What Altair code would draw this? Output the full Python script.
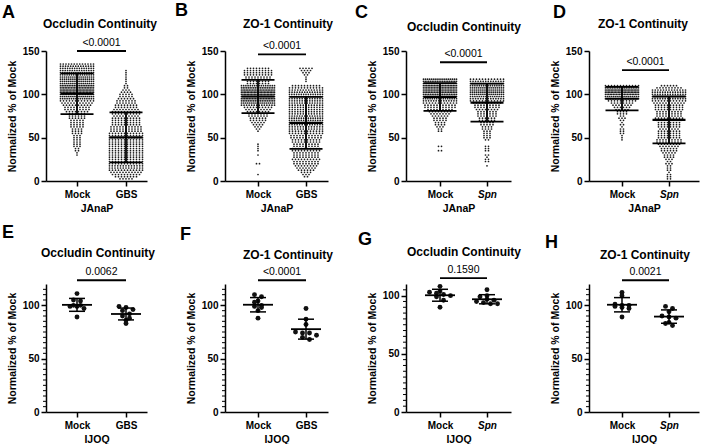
import altair as alt
import pandas as pd

FONT = "Liberation Sans"

# ---------------- data ----------------
# Panels A-D: number of dots in each row of the swarm, rows every STEP (% of Mock)
STEP = 2.5

A_mock_start = 30.0
A_mock_counts = [1, 1, 2, 2, 3, 3, 3, 3, 3, 3, 4, 4, 4, 5, 5, 5, 5, 6, 6, 6,
                 8, 9, 9, 10, 11, 12,
                 16, 18, 22, 24, 24, 22, 20,
                 18, 18, 17, 17, 16, 16, 15, 15, 14, 13]
A_gbs_start = 2.5
A_gbs_counts = [5, 8, 10, 11, 12, 13, 13, 12, 12, 12,
                12, 12, 12, 12, 12, 12, 12, 12, 12, 13,
                12, 12, 11, 11, 11, 10, 10, 10, 10, 9,
                10, 10, 9, 8, 8, 7, 7, 6, 5, 5,
                4, 3, 2, 2, 1, 1, 1, 1, 1, 1, 1]

B_mock_start = 7.5
B_mock_counts = [1, 0, 0, 0, 0, 2, 0, 0, 0, 1,
                 0, 1, 1, 1, 1, 0, 0, 0, 0, 0,
                 1, 2, 3, 4, 5, 6, 6, 7, 7, 8,
                 9, 10, 14, 18, 20, 22, 24, 24, 24, 22,
                 20, 16, 8, 8, 9, 9, 10, 10, 10, 8]
B_gbs_start = 5.0
B_gbs_counts = [2, 3, 4, 6, 7, 8, 9, 9, 10, 9,
                9, 9, 10, 10, 9, 9, 10, 10, 11, 11,
                12, 12, 13, 13, 14, 14, 15, 15, 14, 13,
                13, 13, 13, 13, 14, 14, 14, 15, 15, 14,
                13, 12, 10, 0, 1, 1, 1, 2, 3, 4, 5]

C_mock_start = 35.0
C_mock_counts = [2, 0, 2, 0, 0, 0, 0, 0, 0, 2,
                 2, 3, 4, 4, 5, 5, 6, 7, 8, 9,
                 11, 11, 12, 14, 16, 18, 20, 22, 22, 22,
                 22, 22, 20, 18]
C_spn_start = 17.5
C_spn_counts = [1, 0, 2, 2, 1, 2, 0, 2, 2, 2,
                0, 0, 2, 3, 3, 3, 3, 4, 4, 5,
                5, 6, 6, 7, 7, 7, 8, 9, 9, 10,
                12, 14, 16, 18, 18, 18, 18, 16, 16, 14, 12]

D_mock_start = 47.5
D_mock_counts = [1, 1, 1, 2, 2, 2, 1, 2, 1, 2, 3, 2, 4, 4, 5, 6, 7, 8, 10,
                 14, 18, 22, 24, 24, 20, 12]
D_spn_start = 2.5
D_spn_counts = [2, 2, 2, 1, 2, 2, 2, 3, 2, 3,
                4, 4, 5, 6, 6, 7, 8, 9, 9, 8,
                8, 8, 8, 7, 8, 8, 8, 9, 10, 9,
                9, 9, 10, 10, 10, 11, 12, 14, 14, 14,
                14, 13, 9, 6]

# Panels E-H: individual values (% of Mock)
E_mock = [111, 105, 104, 100, 100, 99, 99, 97, 89]
E_gbs = [99, 98, 96, 95, 92, 90, 88, 86, 83]
F_mock = [110, 108, 104, 103, 100, 99, 98, 95, 88]
F_gbs = [97, 87, 82, 75, 74, 74, 72, 70, 68]
G_mock = [108, 104, 103, 102, 101, 100, 99, 96, 90]
G_spn = [105, 100, 99, 97, 96, 95, 94, 93, 93]
H_mock = [112, 109, 101, 100, 100, 99, 98, 97, 89]
H_spn = [99, 97, 94, 90, 89, 88, 84, 83, 81]

cats_gbs = ["Mock", "GBS"]
cats_spn = ["Mock", "Spn"]
panel_cats = [cats_gbs, cats_gbs, cats_spn, cats_spn, cats_gbs, cats_gbs, cats_spn, cats_spn]
letters = ["A", "B", "C", "D", "E", "F", "G", "H"]
titles = ["Occludin Continuity", "ZO-1 Continuity"] * 4
x_titles = ["JAnaP"] * 4 + ["IJOQ"] * 4
p_values = ["<0.0001", "<0.0001", "<0.0001", "<0.0001",
            "0.0062", "<0.0001", "0.1590", "0.0021"]
p_bar_y = [150, 146, 137, 128, 123.5, 123.5, 115, 123.5]
y_max = [150, 150, 150, 150, 120, 120, 110, 120]
y_title = "Normalized % of Mock"

# ---------------- layout (pixels) ----------------
COLS = [(101, 31, 49), (103, 33, 48), (105, 34, 47), (110, 33, 47)]  # width, Mock offset, px per unit
TOP_H, BOT_H = 130, 128
LETTER_POS = [(-44, -47), (-50, -49), (-51, -47), (-36, -47),
              (-44, -60), (-45, -58), (-48, -53), (-44, -50)]
TITLE_POS = [(54, -23), (63, -23), (58, -20), (54, -23),
             (52, -27), (63, -25), (58, -28), (56, -25)]


def swarm_table(groups):
    rows = []
    for g, (start, counts) in enumerate(groups, start=1):
        for i, c in enumerate(counts):
            for _ in range(c):
                rows.append({"grp": g, "v": start + STEP * i})
    return pd.DataFrame(rows)


def point_table(groups):
    rows = []
    for g, vals in enumerate(groups, start=1):
        for v in vals:
            rows.append({"grp": g, "v": v})
    return pd.DataFrame(rows)


tables = [
    swarm_table([(A_mock_start, A_mock_counts), (A_gbs_start, A_gbs_counts)]),
    swarm_table([(B_mock_start, B_mock_counts), (B_gbs_start, B_gbs_counts)]),
    swarm_table([(C_mock_start, C_mock_counts), (C_spn_start, C_spn_counts)]),
    swarm_table([(D_mock_start, D_mock_counts), (D_spn_start, D_spn_counts)]),
    point_table([E_mock, E_gbs]),
    point_table([F_mock, F_gbs]),
    point_table([G_mock, G_spn]),
    point_table([H_mock, H_spn]),
]


def make_panel(i):
    top = i < 4
    df = tables[i]
    w, off, pxu = COLS[i % 4]
    h = TOP_H if top else BOT_H
    xmin = 1 - off / pxu
    xs = alt.Scale(domain=[xmin, xmin + w / pxu], nice=False, zero=False)
    ys = alt.Scale(domain=[0, y_max[i]], nice=False, zero=False)
    cats = panel_cats[i]
    x_axis_kw = dict(
        values=[1, 2],
        labelExpr=f"datum.value == 1 ? '{cats[0]}' : '{cats[1]}'",
        title=x_titles[i], labelPadding=3, titlePadding=4, labelFlush=False,
    )
    if cats[1] == "Spn":
        x_axis_kw["labelFontStyle"] = {"condition": {"test": "datum.value == 2", "value": "italic"},
                                       "value": "normal"}
    x_axis = alt.Axis(**x_axis_kw)
    y_axis = alt.Axis(values=[0, 50, 100, 150] if top else [0, 50, 100],
                      title=y_title, labelPadding=2, titlePadding=5)

    def X(f):
        return alt.X(f, scale=xs, axis=x_axis)

    def Y(f):
        return alt.Y(f, scale=ys, axis=y_axis)

    if top:
        pitch, maxw, binexpr, size, col = 3 / pxu, 33 / pxu, "datum.v", 3, "#1c1c1c"
        hw_mean, hw_cap, sw = 16.5 / pxu, 16.5 / pxu, 1.8
    else:
        pitch, maxw, binexpr, size, col = 7 / pxu, 100.0, "floor(datum.v / 4)", 24, "#111111"
        hw_mean, hw_cap, sw = 15 / pxu, 8 / pxu, 1.5

    pts = alt.Chart(df).transform_calculate(b=binexpr).transform_window(
        rank="row_number()", groupby=["grp", "b"]
    ).transform_joinaggregate(
        n="count()", groupby=["grp", "b"]
    ).transform_calculate(
        xp=f"datum.grp + (datum.rank - (datum.n + 1) / 2) * min({pitch}, {maxw} / max(datum.n - 1, 1))"
    ).mark_circle(size=size, color=col, opacity=1).encode(x=X("xp:Q"), y=Y("v:Q"))

    stats = alt.Chart(df).transform_aggregate(
        m="mean(v)", s="stdev(v)", groupby=["grp"]
    ).transform_calculate(
        lo="datum.m - datum.s", hi="datum.m + datum.s",
        ml=f"datum.grp - {hw_mean}", mr=f"datum.grp + {hw_mean}",
        cl=f"datum.grp - {hw_cap}", cr=f"datum.grp + {hw_cap}",
    )
    vline = stats.mark_rule(color="black", strokeWidth=sw).encode(
        x=X("grp:Q"), y=Y("lo:Q"), y2="hi:Q")
    mline = stats.mark_rule(color="black", strokeWidth=sw + 0.3).encode(
        x=X("ml:Q"), x2="mr:Q", y=Y("m:Q"))
    caps = stats.transform_fold(["lo", "hi"], as_=["k", "yy"]).mark_rule(
        color="black", strokeWidth=sw).encode(x=X("cl:Q"), x2="cr:Q", y=Y("yy:Q"))

    pdf = pd.DataFrame({"x1": [1], "x2": [2], "y": [p_bar_y[i]], "t": [p_values[i]]})
    pbar = alt.Chart(pdf).mark_rule(color="black", strokeWidth=1.8).encode(
        x=X("x1:Q"), x2="x2:Q", y=Y("y:Q"))
    ptxt = alt.Chart(pdf).transform_calculate(xm="(datum.x1 + datum.x2) / 2").mark_text(
        dy=-5, baseline="alphabetic", align="center", fontSize=10.5, font=FONT, color="black"
    ).encode(x=X("xm:Q"), y=Y("y:Q"), text="t:N")

    tx, ty = TITLE_POS[i]
    ttl = alt.Chart(pd.DataFrame({"t": [titles[i]]})).mark_text(
        fontSize=12, fontWeight="bold", font=FONT, align="center", baseline="alphabetic", color="black"
    ).encode(x=alt.value(tx), y=alt.value(ty), text="t:N")
    lx, ly = LETTER_POS[i]
    let = alt.Chart(pd.DataFrame({"t": [letters[i]]})).mark_text(
        fontSize=18, fontWeight="bold", font=FONT, align="left", baseline="top", color="black"
    ).encode(x=alt.value(lx), y=alt.value(ly), text="t:N")

    layers = [pts, vline, mline, caps, pbar, ptxt, ttl, let]
    if not top:
        minor = [t for t in range(5, y_max[i], 5) if t % 50 != 0]
        mt = alt.Chart(pd.DataFrame({"t": minor})).mark_rule(color="black", strokeWidth=1).encode(
            y=Y("t:Q"), x=alt.value(0), x2=alt.value(-3))
        layers.append(mt)
    return alt.layer(*layers).properties(width=w, height=h)


chart = alt.concat(
    *[make_panel(i) for i in range(8)],
    columns=4,
    spacing={"row": 103, "column": 78},
    bounds="flush",
).properties(
    padding={"left": 2, "top": 2, "right": 1, "bottom": 1}
).configure(font=FONT).configure_view(stroke=None).configure_axis(
    domainColor="black", domainWidth=1.5, tickColor="black", tickWidth=1.5, tickSize=5,
    labelColor="black", titleColor="black", labelFont=FONT, titleFont=FONT,
    labelFontWeight="bold", titleFontWeight="bold", labelFontSize=10, titleFontSize=10.5,
    grid=False,
)

chart.save("out.html", embed_options={"renderer": "svg", "actions": False})
